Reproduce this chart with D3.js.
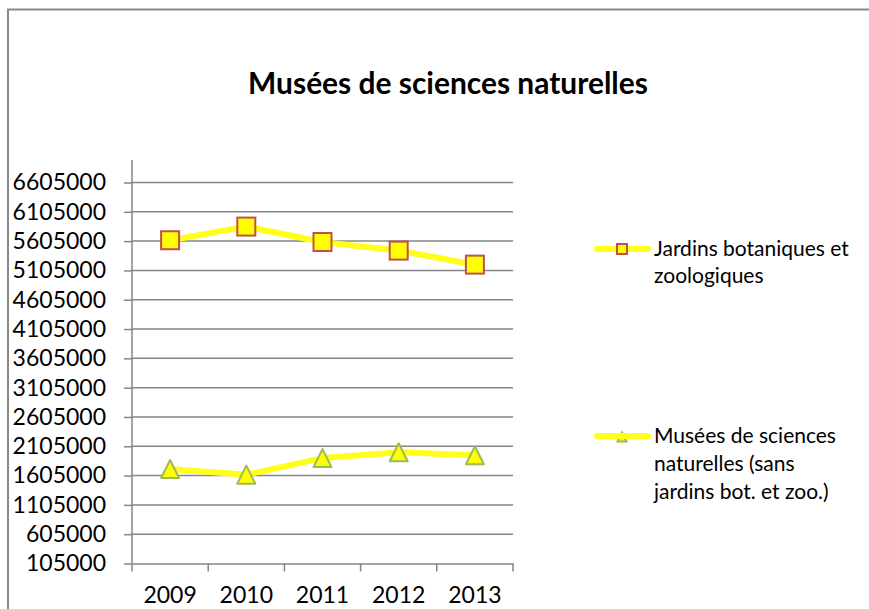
<!DOCTYPE html>
<html><head><meta charset="utf-8">
<script src="https://cdn.jsdelivr.net/npm/d3@7"></script>
<style>body{margin:0;background:#fff;} svg{display:block;}</style>
</head><body>
<svg id="c" width="869" height="609"></svg>
<script>
const title = "Musées de sciences naturelles";
const years = ["2009","2010","2011","2012","2013"];
const jardins = [5620000, 5853000, 5590000, 5443000, 5204000];
const musees = [1718000, 1621000, 1903000, 2002000, 1951000];
const yTicks = [105000,605000,1105000,1605000,2105000,2605000,3105000,3605000,4105000,4605000,5105000,5605000,6105000,6605000];
const seriesNames = [["Jardins botaniques et","zoologiques"],["Musées de sciences","naturelles (sans","jardins bot. et zoo.)"]];

const svg = d3.select("#c");
const font = "Lato, 'Open Sans', sans-serif";
const grid = "#868686";

// frame
svg.append("rect").attr("x",8).attr("y",9.5).attr("width",900).attr("height",700)
  .attr("fill","#fff").attr("stroke","#898989").attr("stroke-width",2);

const x0 = 132, x1 = 513, yTop = 160;
const x = d3.scaleBand().domain(years).range([x0, x1]);
const y = d3.scaleLinear().domain([105000, 6605000]).range([563.5, 182.5]);

// title
const t = svg.append("text").attr("x",448).attr("y",94).attr("text-anchor","middle")
  .attr("font-family",font).attr("font-weight","bold").attr("font-size",26).attr("fill","#000").text(title);
const tw = t.node().getComputedTextLength();
t.attr("font-size", 26*400/tw);

// gridlines
svg.append("g").selectAll("line").data(yTicks.slice(1)).join("line")
  .attr("x1",x0).attr("x2",x1).attr("y1",d=>y(d)).attr("y2",d=>y(d))
  .attr("stroke",grid).attr("stroke-width",1.5);

// y axis
const ya = svg.append("g").attr("transform",`translate(${x0},0)`)
  .call(d3.axisLeft(y).tickValues(yTicks).tickFormat(d=>String(d)).tickSize(8).tickPadding(18));
ya.select(".domain").remove();
ya.selectAll(".tick line").attr("stroke",grid).attr("stroke-width",1.5);
ya.selectAll(".tick text").attr("font-family",font).attr("font-size",23).attr("fill","#000");
svg.append("line").attr("x1",x0).attr("x2",x0).attr("y1",yTop).attr("y2",y(105000))
  .attr("stroke",grid).attr("stroke-width",1.5);

// x axis
const xa = svg.append("g").attr("transform",`translate(0,${y(105000)})`)
  .call(d3.axisBottom(x).tickSize(0).tickPadding(0));
xa.select(".domain").attr("stroke",grid).attr("stroke-width",1.5);
xa.selectAll(".tick text").attr("font-family",font).attr("font-size",23).attr("fill","#000")
  .attr("dy",null).attr("y",39);
svg.append("g").selectAll("line").data(years.concat(["end"])).join("line")
  .attr("x1",(d,i)=>x0 + i*x.bandwidth()).attr("x2",(d,i)=>x0 + i*x.bandwidth())
  .attr("y1",y(105000)).attr("y2",y(105000)+8).attr("stroke",grid).attr("stroke-width",1.5);

const cx = d => x(d) + x.bandwidth()/2;
const line = d3.line().x((d,i)=>cx(years[i])).y(d=>y(d));
const lineColor = "#FFFF1A";

// series 1
svg.append("path").datum(jardins).attr("d",line).attr("fill","none")
  .attr("stroke",lineColor).attr("stroke-width",6).attr("stroke-linejoin","round");
svg.append("g").selectAll("rect").data(jardins).join("rect")
  .attr("x",(d,i)=>cx(years[i])-9).attr("y",d=>y(d)-9).attr("width",18).attr("height",18)
  .attr("fill","#FFFF00").attr("stroke","#C0504D").attr("stroke-width",2);

// series 2
svg.append("path").datum(musees).attr("d",line).attr("fill","none")
  .attr("stroke",lineColor).attr("stroke-width",6).attr("stroke-linejoin","round");
const tri = (px,py,s)=>`M${px},${py-s/2}L${px+s/2},${py+s/2}L${px-s/2},${py+s/2}Z`;
svg.append("g").selectAll("path").data(musees).join("path")
  .attr("d",(d,i)=>tri(cx(years[i]), y(d), 18))
  .attr("fill","#FFFF00").attr("stroke","#9BBB59").attr("stroke-width",2).attr("stroke-linejoin","round");

// legend
const lg = svg.append("g");
const legY = [249, 436];
lg.append("path").attr("d",tri(622, legY[1]+1, 9)).attr("fill","#FFFF00").attr("stroke","#9BBB59").attr("stroke-width",2);
legY.forEach((ly,k)=>{
  lg.append("line").attr("x1",597).attr("x2",648).attr("y1",ly).attr("y2",ly)
    .attr("stroke",lineColor).attr("stroke-width",6).attr("stroke-linecap","round");
});
lg.append("rect").attr("x",617).attr("y",legY[0]-5).attr("width",10).attr("height",10)
  .attr("fill","#FFFF00").attr("stroke","#C0504D").attr("stroke-width",2);
const baselines = [[256,283],[443,471,499]];
seriesNames.forEach((lines,k)=>{
  lines.forEach((s,j)=>{
    lg.append("text").attr("x",654).attr("y",baselines[k][j]).attr("font-family",font)
      .attr("font-size",21).attr("fill","#000").text(s);
  });
});
</script>
</body></html>
